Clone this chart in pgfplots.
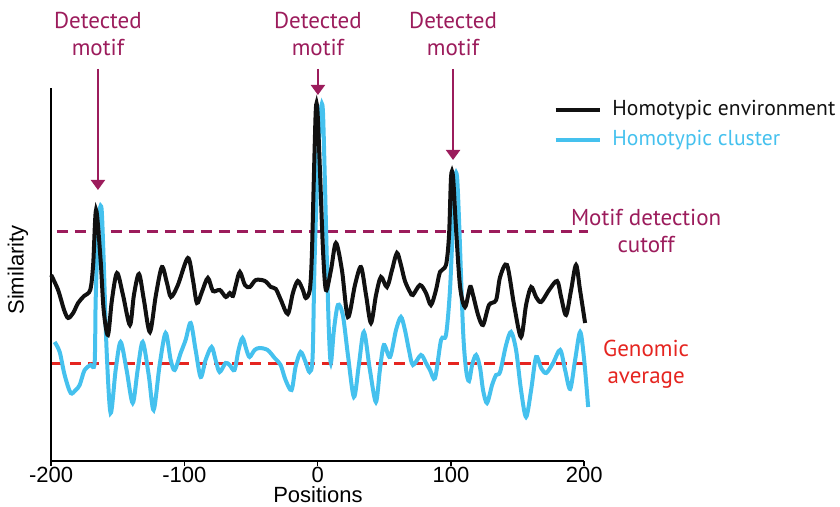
\documentclass[border=0pt]{standalone}
\usepackage{pgfplots}
\pgfplotsset{compat=1.18}
\usetikzlibrary{arrows.meta}
\usepackage{fontspec}
\setmainfont{Liberation Sans}
\newfontfamily\annot{PT Sans}
\definecolor{envblack}{HTML}{111111}
\definecolor{clustcyan}{HTML}{45C1EE}
\definecolor{motifmag}{HTML}{9C1C5C}
\definecolor{genred}{HTML}{E52520}

\pgfplotstableread{
x y
-200.0 186
-194.8 171
-190.3 151
-187.3 143
-183.5 148
-179.8 158
-175.3 165
-170.7 171
-168.5 196
-166.3 251
-162.9 201
-160.6 151
-157.4 126
-154.4 161
-150.6 188
-146.1 166
-140.9 136
-137.9 166
-134.1 187
-130.4 161
-125.9 129
-121.4 166
-116.9 194
-113.1 178
-110.1 164
-104.9 176
-97.4 203
-93.6 181
-90.6 158
-86.9 169
-82.4 183
-78.6 170
-73.4 171
-68.9 164
-65.9 168
-63.6 165
-61.4 176
-58.4 189
-54.6 176
-50.9 174
-46.4 181
-39.6 180
-35.1 174
-31.4 172
-27.6 161
-22.4 147
-18.6 168
-14.9 180
-11.1 171
-8.9 163
-5.9 171
-4.4 204
-2.9 281
-1.4 351
-0.2 351
1.7 291
4.0 211
6.2 171
10.0 191
13.7 218
18.2 191
22.7 144
28.0 176
32.5 194
36.3 166
40.0 138
43.8 166
47.5 184
52.0 174
55.8 191
59.5 208
62.5 196
65.5 180
69.3 169
71.5 166
76.8 176
81.3 168
85.0 156
88.8 171
91.8 189
96.3 196
98.6 226
100.1 284
101.6 284
103.9 231
106.9 174
110.6 154
114.4 174
116.6 166
120.4 146
124.1 136
128.6 156
133.9 161
136.9 184
142.1 196
147.4 156
152.6 124
156.4 156
160.2 174
163.9 164
167.7 159
173.7 171
179.7 180
182.7 164
186.4 146
190.2 171
193.9 196
196.9 171
200.7 138
}\envtable

\pgfplotstableread{
x y
-197.4 119
-193.6 109
-189.9 86
-185.4 68
-181.6 71
-178.6 76
-174.9 91
-170.4 96
-167.4 98
-166.6 161
-165.1 221
-163.6 251
-162.1 251
-160.6 201
-158.4 111
-155.4 48
-151.6 91
-147.9 119
-143.4 91
-138.8 58
-135.1 91
-131.3 119
-126.8 86
-123.1 51
-118.6 96
-114.1 128
-110.3 101
-107.3 91
-102.8 108
-99.1 121
-95.3 138
-91.6 111
-87.8 84
-84.1 101
-79.6 114
-76.6 101
-73.6 89
-69.1 98
-66.1 96
-62.4 91
-59.4 111
-56.4 123
-53.4 111
-51.1 104
-47.3 111
-43.6 113
-37.6 111
-32.3 103
-27.8 96
-24.1 81
-19.6 71
-16.6 94
-12.8 109
-9.1 99
-6.1 89
-3.8 104
-2.3 201
0.2 301
2.4 351
3.9 351
5.4 281
6.9 201
8.4 131
9.9 98
12.2 131
15.2 156
18.9 146
22.7 106
27.2 64
30.9 96
34.7 129
39.2 91
43.7 59
46.7 91
49.7 116
54.3 104
58.8 131
62.5 144
65.5 131
68.5 111
71.5 96
77.5 106
81.3 98
84.3 91
88.1 83
92.6 121
96.3 126
99.3 171
101.6 241
103.1 284
104.6 284
106.1 241
109.1 131
111.4 91
113.6 80
115.9 96
118.9 106
121.9 93
124.1 71
127.1 58
130.9 76
133.9 86
136.9 89
141.4 116
145.1 129
148.9 111
152.6 71
156.4 44
160.2 71
163.9 104
167.7 93
171.5 88
176.7 98
182.0 111
185.7 91
189.5 72
193.2 101
197.0 129
200.0 101
203.0 54
}\clusttable

\begin{document}
\begin{tikzpicture}
\begin{axis}[
  scale only axis,
  width=266.5pt, height=186.5pt,
  xmin=-200, xmax=200, ymin=0, ymax=373,
  axis x line*=bottom, axis y line*=left,
  axis line style={line width=1pt, -},
  xtick={-200,-100,0,100,200},
  ytick=\empty,
  tick align=outside,
  major tick length=2.5pt,
  tick style={line width=0.8pt, black},
  tick label style={font=\fontsize{11}{13}\selectfont},
  /pgf/number format/assume math mode=true,
  xticklabel style={yshift=3pt},
  clip=false,
]
  \addplot[motifmag, line width=1.5pt, dash pattern=on 5.5pt off 3.5pt]
    coordinates {(-195.7,229) (202.9,229)};
  \addplot[genred, line width=1.5pt, dash pattern=on 5.5pt off 3.5pt]
    coordinates {(-199.5,97) (202.9,97)};
  \addplot[clustcyan, line width=2pt, smooth, tension=0.5] table {\clusttable};
  \addplot[envblack, line width=2pt, smooth, tension=0.5] table {\envtable};

  % annotations
  \foreach \xa/\ya in {-164.9/271, 0.2/366, 101.6/301} {
    \edef\tmp{\noexpand\draw[motifmag, line width=1pt, -{Triangle[width=7pt,length=5pt]}]
      (axis cs:\xa,392) -- (axis cs:\xa,\ya);}
    \tmp
  }
  \foreach \xa in {-164.9, 0.2, 101.6} {
    \edef\tmp{\noexpand\node[motifmag, align=center, font=\noexpand\annot\noexpand\fontsize{11.5}{13.5}\noexpand\selectfont]
      at (axis cs:\xa,427) {Detected\noexpand\\motif};}
    \tmp
  }
  \node[motifmag, align=center, font=\annot\fontsize{11.5}{13.5}\selectfont]
    at (axis cs:246.5,230) {Motif detection\\cutoff};
  \node[genred, align=center, font=\annot\fontsize{11.5}{13.5}\selectfont]
    at (axis cs:246.5,97) {Genomic\\average};

  % legend
  \draw[envblack, line width=2pt] (axis cs:178.5,351) -- (axis cs:212.2,351);
  \node[anchor=west, envblack, font=\annot\fontsize{10.8}{13}\selectfont, inner sep=0pt]
    at (axis cs:220.9,351) {Homotypic environment};
  \draw[clustcyan, line width=2pt] (axis cs:178.5,321) -- (axis cs:212.2,321);
  \node[anchor=west, clustcyan, font=\annot\fontsize{10.8}{13}\selectfont, inner sep=0pt]
    at (axis cs:220.9,321) {Homotypic cluster};

  % axis labels
  \node[rotate=90, font=\fontsize{11}{13}\selectfont] at (axis cs:-224.9,191) {Similarity};
  \node[font=\fontsize{11}{13}\selectfont] at (axis cs:0.2,-34) {Positions};

  \coordinate (bl) at (axis cs:-238.4,-46);
  \coordinate (tr) at (axis cs:392.0,461);
\end{axis}
\pgfresetboundingbox
\path[use as bounding box] (bl) rectangle (tr);
\end{tikzpicture}
\end{document}
